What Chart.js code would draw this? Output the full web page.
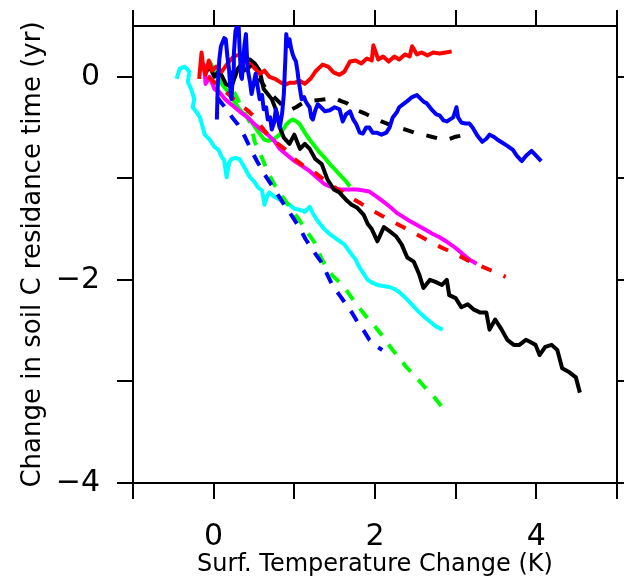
<!DOCTYPE html>
<html>
<head>
<meta charset="utf-8">
<script src="https://cdn.jsdelivr.net/npm/chart.js@4/dist/chart.umd.min.js"></script>
<style>
  html, body { margin: 0; padding: 0; background: #ffffff; }
  #wrap { width: 624px; height: 581px; }
</style>
</head>
<body>
<div id="wrap"><canvas id="c" width="624" height="581"></canvas></div>
<script>
// Axis ranges and tick labelling
const xRange = [-1, 5];
const yRange = [-4, 0.5];
const xLabelled = [0, 2, 4];
const yLabelled = [0, -2, -4];

// Red, solid
const redSolidX = [-0.18, -0.15, -0.13, -0.10, -0.06, -0.02, 0.03, 0.10, 0.18, 0.25, 0.33, 0.41, 0.49, 0.57, 0.63, 0.69, 0.76, 0.82, 0.88, 0.94, 1.00, 1.07, 1.13, 1.20, 1.27, 1.35, 1.42, 1.49, 1.56, 1.62, 1.69, 1.76, 1.83, 1.90, 1.96, 1.98, 2.04, 2.10, 2.17, 2.24, 2.30, 2.37, 2.43, 2.46, 2.52, 2.58, 2.65, 2.72, 2.80, 2.88, 2.95];
const redSolidY = [-0.02, 0.24, 0.10, 0.02, 0.16, 0.06, 0.10, 0.05, 0.14, 0.20, 0.22, 0.15, 0.10, 0.03, 0.06, 0.00, -0.02, -0.05, -0.08, -0.06, -0.06, -0.04, -0.07, -0.02, 0.06, 0.12, 0.10, 0.04, 0.02, 0.05, 0.15, 0.16, 0.13, 0.18, 0.16, 0.31, 0.17, 0.20, 0.15, 0.20, 0.17, 0.22, 0.20, 0.30, 0.22, 0.24, 0.21, 0.24, 0.23, 0.24, 0.25];

// Blue, solid
const blueSolidX = [0.04, 0.05, 0.07, 0.09, 0.10, 0.13, 0.15, 0.17, 0.19, 0.21, 0.22, 0.24, 0.25, 0.27, 0.29, 0.31, 0.32, 0.34, 0.35, 0.37, 0.38, 0.40, 0.41, 0.42, 0.45, 0.47, 0.50, 0.52, 0.55, 0.57, 0.60, 0.62, 0.65, 0.67, 0.70, 0.72, 0.75, 0.77, 0.80, 0.82, 0.85, 0.87, 0.89, 0.90, 0.92, 0.94, 0.96, 0.98, 1.00, 1.02, 1.04, 1.05, 1.07, 1.09, 1.12, 1.14, 1.17, 1.19, 1.21, 1.23, 1.26, 1.29, 1.33, 1.38, 1.44, 1.50, 1.56, 1.60, 1.64, 1.69, 1.73, 1.77, 1.81, 1.85, 1.89, 1.93, 1.97, 2.02, 2.08, 2.14, 2.18, 2.22, 2.27, 2.30, 2.35, 2.40, 2.46, 2.52, 2.57, 2.61, 2.64, 2.70, 2.76, 2.80, 2.85, 2.89, 2.93, 2.97, 3.01, 3.03, 3.07, 3.12, 3.17, 3.21, 3.27, 3.33, 3.38, 3.42, 3.47, 3.52, 3.58, 3.64, 3.71, 3.76, 3.82, 3.87, 3.94, 4.00, 4.06];
const blueSolidY = [-0.42, -0.10, 0.17, 0.30, 0.32, 0.38, 0.37, 0.20, 0.08, -0.15, -0.22, 0.05, 0.22, 0.45, 0.50, 0.50, 0.30, 0.00, -0.02, 0.17, 0.30, 0.42, 0.25, 0.08, -0.05, -0.17, -0.05, 0.03, -0.12, -0.22, -0.18, -0.32, -0.30, -0.42, -0.40, -0.52, -0.45, -0.32, -0.42, -0.50, -0.35, -0.17, 0.20, 0.42, 0.30, 0.37, 0.28, 0.22, 0.18, 0.15, 0.05, -0.02, -0.12, -0.22, -0.20, -0.24, -0.28, -0.30, -0.40, -0.42, -0.33, -0.27, -0.30, -0.34, -0.33, -0.30, -0.32, -0.44, -0.37, -0.34, -0.42, -0.47, -0.55, -0.56, -0.50, -0.50, -0.55, -0.55, -0.57, -0.55, -0.50, -0.40, -0.35, -0.30, -0.27, -0.24, -0.20, -0.18, -0.22, -0.25, -0.26, -0.32, -0.37, -0.38, -0.43, -0.44, -0.42, -0.40, -0.30, -0.40, -0.45, -0.46, -0.46, -0.50, -0.58, -0.64, -0.61, -0.57, -0.59, -0.62, -0.65, -0.68, -0.72, -0.78, -0.83, -0.78, -0.73, -0.78, -0.83];

// Black, dashed
const blackDashX = [0.35, 0.45, 0.55, 0.65, 0.75, 0.85, 0.94, 1.02, 1.10, 1.20, 1.29, 1.40, 1.50, 1.58, 1.65, 1.75, 1.87, 1.97, 2.08, 2.18, 2.28, 2.38, 2.49, 2.60, 2.70, 2.80, 2.90, 3.00, 3.07];
const blackDashY = [0.05, 0.10, 0.00, -0.12, -0.20, -0.28, -0.33, -0.30, -0.26, -0.24, -0.23, -0.22, -0.21, -0.24, -0.26, -0.32, -0.36, -0.40, -0.44, -0.47, -0.50, -0.52, -0.55, -0.57, -0.59, -0.61, -0.62, -0.59, -0.58];

// Black, solid
const blackSolidX = [-0.11, -0.05, 0.01, 0.07, 0.15, 0.22, 0.30, 0.37, 0.45, 0.51, 0.57, 0.62, 0.67, 0.72, 0.77, 0.82, 0.87, 0.94, 1.00, 1.07, 1.13, 1.19, 1.26, 1.34, 1.41, 1.49, 1.56, 1.64, 1.71, 1.78, 1.86, 1.91, 1.96, 2.03, 2.11, 2.18, 2.26, 2.33, 2.40, 2.48, 2.55, 2.60, 2.68, 2.75, 2.83, 2.89, 2.92, 3.00, 3.07, 3.15, 3.22, 3.30, 3.38, 3.42, 3.49, 3.57, 3.64, 3.72, 3.79, 3.87, 3.92, 3.99, 4.04, 4.11, 4.19, 4.26, 4.32, 4.41, 4.49, 4.54];
const blackSolidY = [0.03, 0.10, 0.00, 0.06, -0.07, -0.10, 0.08, 0.15, 0.17, 0.13, 0.06, -0.12, -0.17, -0.22, -0.32, -0.50, -0.60, -0.66, -0.57, -0.71, -0.66, -0.71, -0.81, -0.86, -1.01, -1.11, -1.14, -1.21, -1.26, -1.29, -1.36, -1.45, -1.50, -1.62, -1.48, -1.52, -1.57, -1.65, -1.78, -1.82, -1.95, -2.08, -2.00, -2.02, -2.05, -2.00, -2.15, -2.18, -2.27, -2.24, -2.29, -2.32, -2.32, -2.49, -2.39, -2.49, -2.59, -2.64, -2.64, -2.59, -2.61, -2.64, -2.74, -2.66, -2.64, -2.69, -2.87, -2.91, -2.96, -3.11];

// Red, dashed
const redDashX = [-0.07, 0.05, 0.14, 0.22, 0.32, 0.42, 0.51, 0.60, 0.69, 0.78, 0.88, 1.00, 1.12, 1.25, 1.38, 1.52, 1.66, 1.81, 1.95, 2.09, 2.23, 2.37, 2.51, 2.65, 2.82, 2.99, 3.13, 3.27, 3.42, 3.62];
const redDashY = [0.00, -0.08, -0.14, -0.20, -0.27, -0.33, -0.40, -0.50, -0.59, -0.65, -0.71, -0.81, -0.88, -0.94, -1.02, -1.10, -1.17, -1.24, -1.31, -1.37, -1.43, -1.49, -1.55, -1.61, -1.68, -1.74, -1.80, -1.85, -1.90, -1.97];

// Magenta, solid
const magentaX = [-0.14, -0.12, -0.10, -0.05, 0.01, 0.07, 0.14, 0.23, 0.32, 0.42, 0.51, 0.59, 0.67, 0.75, 0.82, 0.91, 1.00, 1.10, 1.19, 1.29, 1.38, 1.47, 1.56, 1.67, 1.78, 1.86, 1.93, 2.02, 2.12, 2.20, 2.27, 2.35, 2.43, 2.52, 2.61, 2.70, 2.80, 2.90, 2.99, 3.08, 3.17, 3.26];
const magentaY = [0.07, 0.12, -0.07, 0.00, -0.12, -0.15, -0.22, -0.28, -0.34, -0.40, -0.47, -0.52, -0.57, -0.63, -0.71, -0.77, -0.83, -0.88, -0.93, -1.00, -1.06, -1.09, -1.11, -1.11, -1.11, -1.12, -1.13, -1.18, -1.24, -1.29, -1.34, -1.38, -1.42, -1.46, -1.50, -1.54, -1.58, -1.63, -1.68, -1.74, -1.80, -1.84];

// Green, solid
const greenSolidX = [-0.05, 0.01, 0.05, 0.10, 0.15, 0.20, 0.26, 0.32, 0.38, 0.45, 0.50, 0.55, 0.59, 0.63, 0.68, 0.72, 0.77, 0.82, 0.86, 0.90, 0.94, 0.98, 1.03, 1.07, 1.13, 1.19, 1.25, 1.31, 1.38, 1.44, 1.50, 1.56, 1.63, 1.69];
const greenSolidY = [0.15, 0.06, 0.00, -0.07, -0.12, -0.17, -0.25, -0.32, -0.37, -0.42, -0.48, -0.54, -0.58, -0.62, -0.63, -0.62, -0.60, -0.57, -0.52, -0.47, -0.44, -0.42, -0.44, -0.47, -0.55, -0.62, -0.68, -0.74, -0.80, -0.86, -0.91, -0.96, -1.02, -1.08];

// Green, dashed
const greenDashX = [0.25, 0.35, 0.45, 0.51, 0.60, 0.69, 0.78, 0.88, 0.98, 1.07, 1.16, 1.25, 1.33, 1.41, 1.50, 1.60, 1.68, 1.77, 1.88, 2.00, 2.10, 2.19, 2.29, 2.39, 2.50, 2.61, 2.75, 2.89];
const greenDashY = [-0.15, -0.30, -0.45, -0.64, -0.80, -0.97, -1.10, -1.21, -1.32, -1.42, -1.53, -1.63, -1.78, -1.90, -1.98, -2.05, -2.14, -2.24, -2.35, -2.46, -2.56, -2.66, -2.76, -2.86, -2.95, -3.05, -3.17, -3.31];

// Blue, dashed
const blueDashX = [0.04, 0.10, 0.16, 0.23, 0.30, 0.38, 0.47, 0.55, 0.63, 0.72, 0.81, 0.89, 0.97, 1.06, 1.14, 1.24, 1.34, 1.41, 1.47, 1.56, 1.65, 1.72, 1.78, 1.86, 1.93, 2.01, 2.09];
const blueDashY = [-0.20, -0.26, -0.32, -0.40, -0.47, -0.58, -0.73, -0.85, -0.96, -1.07, -1.18, -1.28, -1.37, -1.48, -1.60, -1.72, -1.83, -1.95, -2.05, -2.15, -2.25, -2.33, -2.41, -2.50, -2.59, -2.65, -2.69];

// Cyan, solid
const cyanX = [-0.46, -0.42, -0.36, -0.30, -0.32, -0.28, -0.24, -0.26, -0.21, -0.17, -0.11, -0.05, 0.01, 0.06, 0.10, 0.13, 0.16, 0.19, 0.22, 0.27, 0.32, 0.38, 0.45, 0.50, 0.55, 0.60, 0.63, 0.66, 0.69, 0.75, 0.82, 0.88, 0.94, 1.00, 1.07, 1.13, 1.19, 1.24, 1.29, 1.36, 1.44, 1.53, 1.62, 1.71, 1.76, 1.81, 1.91, 1.97, 2.03, 2.10, 2.18, 2.24, 2.30, 2.37, 2.43, 2.49, 2.55, 2.62, 2.68, 2.76, 2.84];
const cyanY = [-0.02, 0.08, 0.10, 0.05, -0.05, -0.12, -0.22, -0.30, -0.35, -0.40, -0.57, -0.62, -0.69, -0.72, -0.79, -0.82, -0.99, -0.85, -0.81, -0.80, -0.81, -0.89, -0.99, -1.03, -1.09, -1.12, -1.26, -1.18, -1.14, -1.18, -1.21, -1.24, -1.26, -1.30, -1.31, -1.33, -1.28, -1.36, -1.42, -1.49, -1.55, -1.60, -1.65, -1.75, -1.80, -1.88, -2.00, -2.03, -2.05, -2.06, -2.07, -2.09, -2.12, -2.17, -2.22, -2.27, -2.32, -2.37, -2.41, -2.46, -2.49];

function pts(xs, ys) {
  return xs.map((x, i) => ({ x: x, y: ys[i] }));
}

function series(xs, ys, color, dash) {
  return {
    data: pts(xs, ys),
    showLine: true,
    borderColor: color,
    backgroundColor: color,
    borderWidth: 4,
    borderDash: dash || [],
    borderJoinStyle: 'round',
    borderCapStyle: 'butt',
    pointRadius: 0,
    tension: 0,
    fill: false
  };
}

// First entry is drawn on top
const datasets = [
  series(blueSolidX, blueSolidY, '#0000ff'),
  series(blackDashX, blackDashY, '#000000', [11, 13]),
  series(redSolidX, redSolidY, '#ff0000'),
  series(blackSolidX, blackSolidY, '#000000'),
  series(redDashX, redDashY, '#ff0000', [11, 13]),
  series(magentaX, magentaY, '#ff00ff'),
  series(greenSolidX, greenSolidY, '#00ff00'),
  series(blueDashX, blueDashY, '#0000ff', [12, 11]),
  series(greenDashX, greenDashY, '#00ff00', [12, 11]),
  series(cyanX, cyanY, '#00ffff')
];

const tickFont = { family: 'DejaVu Sans', size: 30 };

const frameGrid = {
  drawOnChartArea: false,
  drawTicks: true,
  tickLength: 16,
  tickWidth: 2,
  tickColor: '#000000',
  color: '#000000',
  lineWidth: 2
};
const frameBorder = { display: true, color: '#000000', width: 2 };

function minusLabel(v) {
  return v < 0 ? '\u2212' + Math.abs(v) : String(v);
}

// Fix each axis box to a set size and drop the label overhang padding,
// so the plot frame sits at a fixed place on the canvas.
function fixBox(size) {
  return (s) => {
    if (s.isHorizontal()) { s.height = size; } else { s.width = size; }
    s.paddingTop = 0; s.paddingBottom = 0; s.paddingLeft = 0; s.paddingRight = 0;
  };
}

new Chart(document.getElementById('c'), {
  type: 'scatter',
  data: { datasets: datasets },
  options: {
    responsive: false,
    animation: false,
    devicePixelRatio: 1,
    layout: { padding: { left: 0, right: 0, top: 10, bottom: 0 } },
    plugins: { legend: { display: false }, tooltip: { enabled: false } },
    scales: {
      x: {
        type: 'linear', position: 'bottom',
        min: xRange[0], max: xRange[1],
        grid: frameGrid, border: frameBorder,
        ticks: {
          stepSize: 1, font: tickFont, color: '#000000', padding: 20, maxRotation: 0,
          callback: (v) => xLabelled.includes(v) ? minusLabel(v) : ''
        },
        title: {
          display: true, text: 'Surf. Temperature Change (K)',
          font: { family: 'DejaVu Sans', size: 24 }, color: '#000000', padding: { top: 0, bottom: 2 }
        },
        afterFit: fixBox(98)
      },
      y: {
        type: 'linear', position: 'left',
        min: yRange[0], max: yRange[1],
        grid: frameGrid, border: frameBorder,
        ticks: {
          stepSize: 1, includeBounds: false, font: tickFont, color: '#000000', padding: 17,
          callback: (v) => yLabelled.includes(v) ? minusLabel(v) : ''
        },
        title: {
          display: true, text: 'Change in soil C residance time (yr)',
          font: { family: 'DejaVu Sans', size: 26 }, color: '#000000', padding: { top: 18, bottom: 0 }
        },
        afterFit: fixBox(133)
      },
      xTop: {
        type: 'linear', position: 'top',
        min: xRange[0], max: xRange[1],
        grid: frameGrid, border: frameBorder,
        ticks: { stepSize: 1, display: false },
        afterFit: fixBox(16)
      },
      yRight: {
        type: 'linear', position: 'right',
        min: yRange[0], max: yRange[1],
        grid: frameGrid, border: frameBorder,
        ticks: { stepSize: 1, includeBounds: false, display: false },
        afterFit: fixBox(7)
      }
    }
  }
});
</script>
</body>
</html>
